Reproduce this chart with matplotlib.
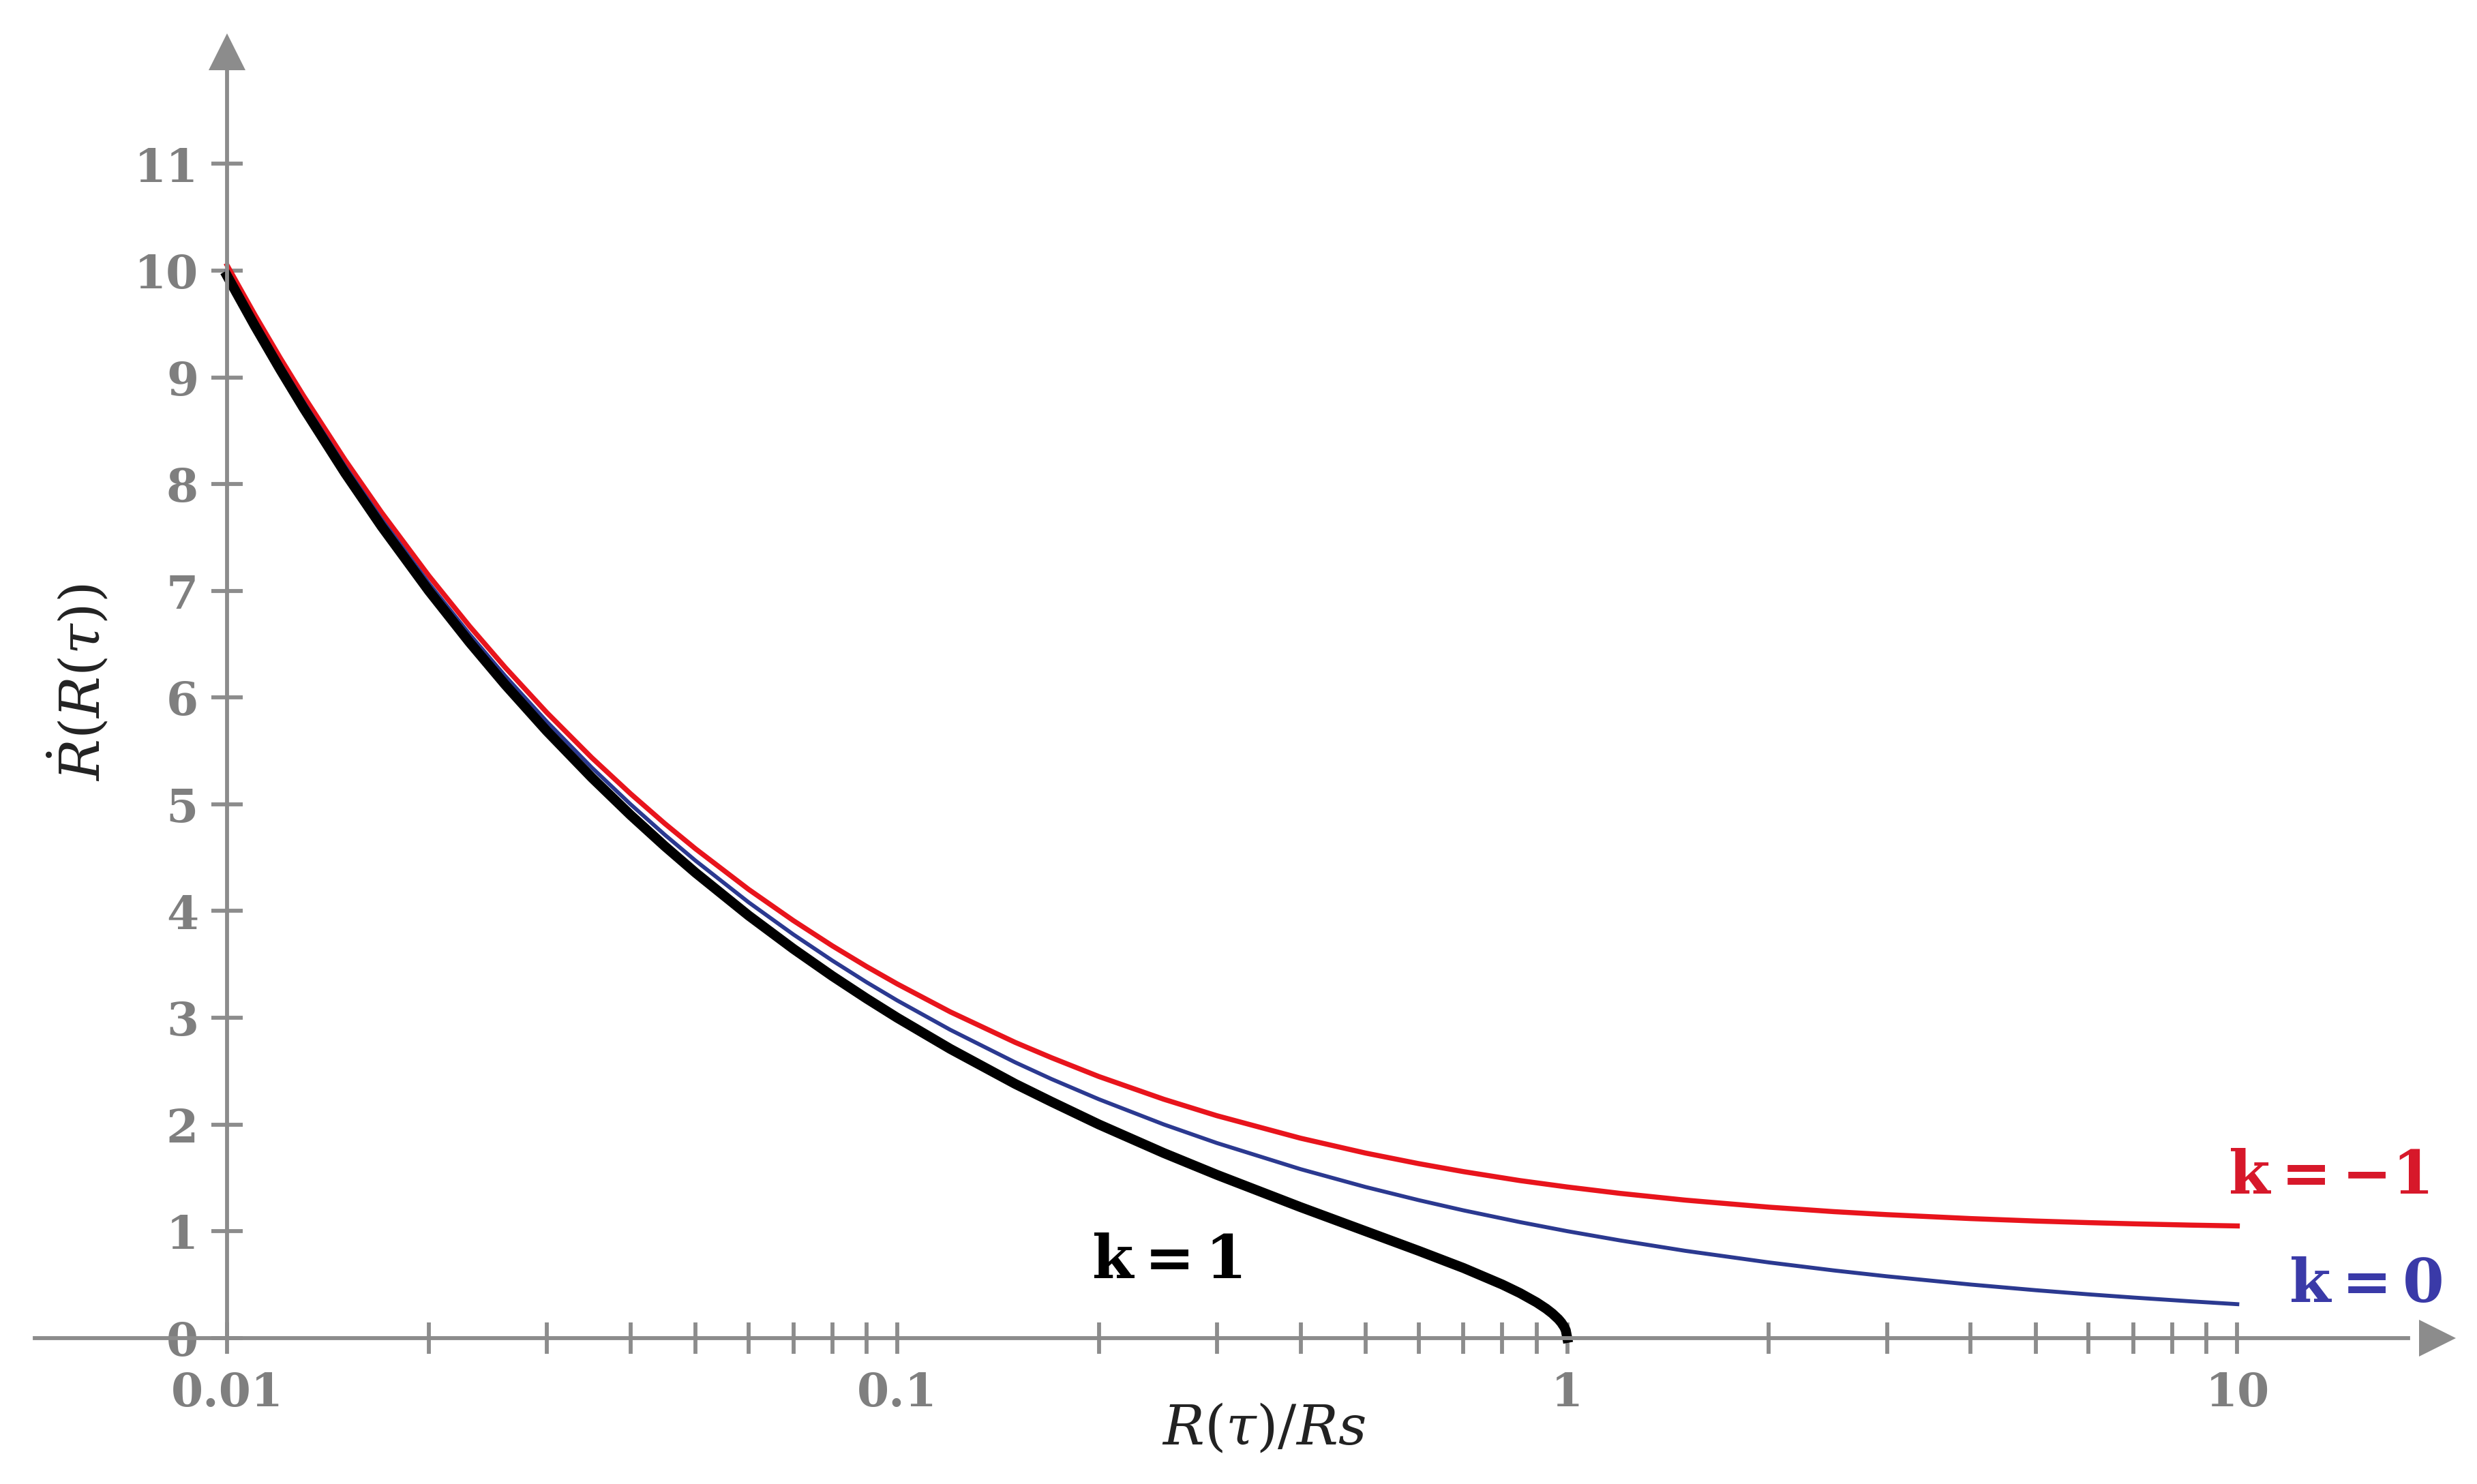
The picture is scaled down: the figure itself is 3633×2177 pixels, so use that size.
import matplotlib
matplotlib.use("Agg")
import matplotlib.pyplot as plt

plt.rcParams["mathtext.fontset"] = "dejavuserif"

x_vals = [0.01, 0.011, 0.012, 0.013, 0.015, 0.017, 0.02, 0.023, 0.026, 0.03, 0.035, 0.04, 0.045, 0.05, 0.06, 0.07, 0.08, 0.09, 0.1, 0.12, 0.15, 0.17, 0.2, 0.25, 0.3, 0.4, 0.5, 0.6, 0.7, 0.85, 1.0, 1.2, 1.5, 2, 2.5, 3, 4, 5, 6, 7, 8.5, 10]
k0_vals = [10.0, 9.535, 9.129, 8.771, 8.165, 7.670, 7.071, 6.594, 6.202, 5.774, 5.345, 5.0, 4.714, 4.472, 4.082, 3.780, 3.536, 3.333, 3.162, 2.887, 2.582, 2.425, 2.236, 2.0, 1.826, 1.581, 1.414, 1.291, 1.195, 1.085, 1.0, 0.913, 0.816, 0.707, 0.632, 0.577, 0.5, 0.447, 0.408, 0.378, 0.343, 0.316]
km1_vals = [10.050, 9.587, 9.183, 8.828, 8.226, 7.735, 7.141, 6.669, 6.282, 5.859, 5.437, 5.099, 4.819, 4.583, 4.203, 3.910, 3.674, 3.480, 3.317, 3.055, 2.769, 2.625, 2.449, 2.236, 2.082, 1.871, 1.732, 1.633, 1.558, 1.474, 1.414, 1.354, 1.291, 1.225, 1.183, 1.155, 1.118, 1.095, 1.080, 1.069, 1.057, 1.049]
k1_x = [0.01, 0.011, 0.012, 0.013, 0.015, 0.017, 0.02, 0.023, 0.026, 0.03, 0.035, 0.04, 0.045, 0.05, 0.06, 0.07, 0.08, 0.09, 0.1, 0.12, 0.15, 0.17, 0.2, 0.25, 0.3, 0.4, 0.5, 0.6, 0.7, 0.8, 0.85, 0.9, 0.93, 0.95, 0.97, 0.98, 0.99, 0.995, 1.0]
k1_vals = [9.950, 9.482, 9.074, 8.714, 8.103, 7.604, 7.0, 6.518, 6.121, 5.686, 5.251, 4.899, 4.607, 4.359, 3.958, 3.645, 3.391, 3.180, 3.0, 2.708, 2.380, 2.212, 2.0, 1.732, 1.528, 1.225, 1.0, 0.816, 0.655, 0.5, 0.420, 0.333, 0.274, 0.229, 0.176, 0.143, 0.101, 0.071, 0.0]
y_ticks = list(range(0, 12))
x_major = [0.01, 0.1, 1, 10]
x_major_labels = ["0.01", "0.1", "1", "10"]

fig = plt.figure(figsize=(15.6, 9.35), dpi=232.9)
ax = fig.add_axes([0, 0, 1, 1])
ax.set_xscale("log")
ax.set_xlim(10**-2.339, 10**1.358)
ax.set_ylim(-1.369, 12.54)
ax.patch.set_alpha(0)

gray = "#8c8c8c"
for s in ["top", "right"]:
    ax.spines[s].set_visible(False)
ax.spines["left"].set_position(("data", 0.01))
ax.spines["bottom"].set_position(("data", 0))
ax.spines["left"].set_bounds(0, 11.9)
ax.spines["bottom"].set_bounds(0.00516, 18)
for s in ["left", "bottom"]:
    ax.spines[s].set_color(gray)
    ax.spines[s].set_linewidth(1.8)
ax.plot([19.9], [0], marker=">", ms=17, color=gray, clip_on=False, mew=0)
ax.plot([0.01], [12.05], marker="^", ms=17, color=gray, clip_on=False, mew=0)

ax.set_yticks(y_ticks)
ax.set_xticks(x_major)
ax.set_xticklabels(x_major_labels)
minor = [m * 10**e for e in (-2, -1, 0) for m in range(2, 10)]
ax.set_xticks(minor, minor=True)
ax.tick_params(axis="both", which="both", direction="inout", color=gray, width=1.8,
               labelcolor="#7f7f7f", labelsize=21)
ax.tick_params(axis="y", length=14, pad=6)
ax.tick_params(axis="x", which="major", length=14, pad=8)
ax.tick_params(axis="x", which="minor", length=14)
for lab in ax.get_xticklabels() + ax.get_yticklabels():
    lab.set_family("DejaVu Serif")
    lab.set_fontweight("bold")

ax.plot(x_vals, km1_vals, color="#e8141c", lw=2.3)
ax.plot(x_vals, k0_vals, color="#2b3990", lw=1.8)
ax.plot(k1_x, k1_vals, color="black", lw=4.5)

ax.text(0.94, 0.207, r"$\mathbf{k=-1}$", transform=ax.transAxes, color="#d7182a", ha="center", va="center", fontsize=27)
ax.text(0.955, 0.134, r"$\mathbf{k=0}$", transform=ax.transAxes, color="#3a3aa8", ha="center", va="center", fontsize=27)
ax.text(0.471, 0.150, r"$\mathbf{k=1}$", transform=ax.transAxes, color="black", ha="center", va="center", fontsize=27)
ax.text(0.51, 0.037, r"$R(\tau)/Rs$", transform=ax.transAxes, ha="center", va="center", fontsize=25, color="#222222")
ax.text(0.032, 0.54, r"$\dot{R}(R(\tau))$", transform=ax.transAxes, ha="center", va="center", fontsize=25, rotation=90, color="#222222")

fig.savefig("out.png", dpi=232.9)
